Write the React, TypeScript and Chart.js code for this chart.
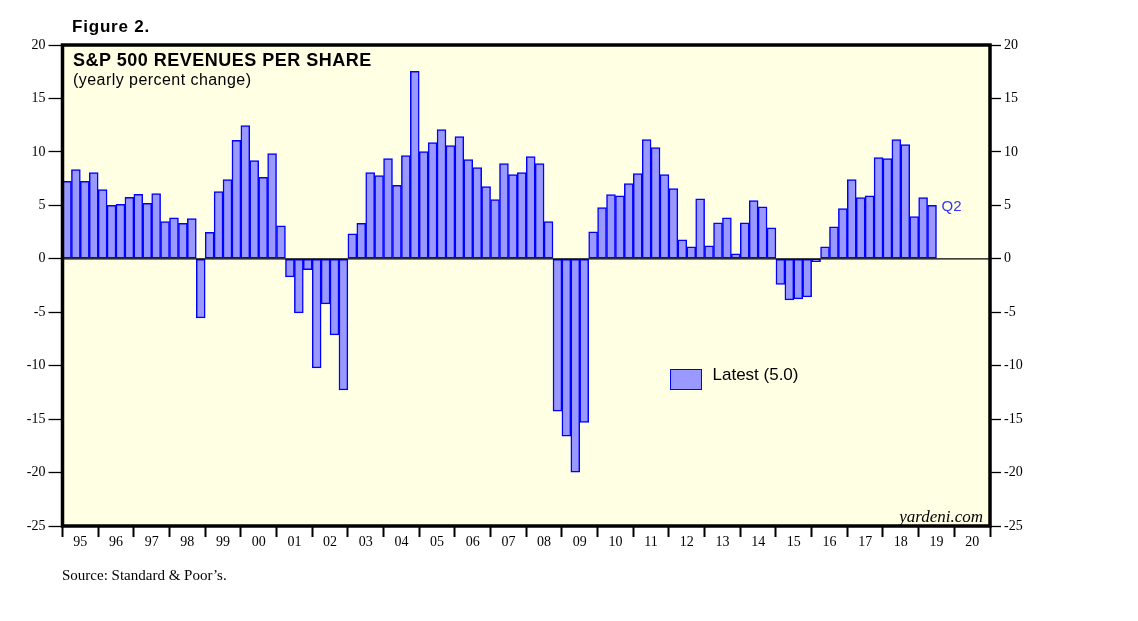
import React, { useEffect, useRef } from "react";
import { Chart, registerables } from "chart.js";

Chart.register(...registerables);

const years = [
  1995, 1996, 1997, 1998, 1999, 2000, 2001, 2002, 2003, 2004, 2005, 2006, 2007,
  2008, 2009, 2010, 2011, 2012, 2013, 2014, 2015, 2016, 2017, 2018, 2019, 2020,
];
const quarters = ["Q1", "Q2", "Q3", "Q4"];
const yearLabels = [
  "95", "96", "97", "98", "99", "00", "01", "02", "03", "04", "05", "06", "07",
  "08", "09", "10", "11", "12", "13", "14", "15", "16", "17", "18", "19", "20",
];
// yearly percent change of S&P 500 revenues per share, quarterly from 1995 Q1
const revenueGrowth = [
  7.25, 8.34, 7.25, 8.06, // 1995
  6.47, 5.0, 5.09, 5.75, // 1996
  6.03, 5.18, 6.09, 3.47, // 1997
  3.84, 3.31, 3.75, -5.53, // 1998
  2.47, 6.28, 7.4, 11.09, // 1999
  12.47, 9.18, 7.62, 9.84, // 2000
  3.09, -1.69, -5.06, -1.03, // 2001
  -10.2, -4.22, -7.12, -12.28, // 2002
  2.34, 3.31, 8.06, 7.78, // 2003
  9.37, 6.87, 9.65, 17.53, // 2004
  10.03, 10.87, 12.09, 10.59, // 2005
  11.43, 9.28, 8.53, 6.75, // 2006
  5.53, 8.9, 7.87, 8.06, // 2007
  9.56, 8.9, 3.47, -14.25, // 2008
  -16.6, -19.97, -15.3, 2.53, // 2009
  4.78, 6.0, 5.9, 7.03, // 2010
  7.97, 11.15, 10.4, 7.87, // 2011
  6.56, 1.78, 1.12, 5.62, // 2012
  1.22, 3.37, 3.84, 0.47, // 2013
  3.37, 5.44, 4.87, 2.9, // 2014
  -2.41, -3.84, -3.75, -3.56, // 2015
  -0.28, 1.12, 3.0, 4.69, // 2016
  7.4, 5.72, 5.9, 9.47, // 2017
  9.37, 11.15, 10.68, 3.94, // 2018
  5.72, 5.0, // 2019
];
const yTicks = [-25, -20, -15, -10, -5, 0, 5, 10, 15, 20];

const quarterLabels: string[] = [];
years.forEach((y) => quarters.forEach((q) => quarterLabels.push(`${y} ${q}`)));
const seriesData: (number | null)[] = quarterLabels.map((_, i) =>
  i < revenueGrowth.length ? revenueGrowth[i] : null
);
const latest = revenueGrowth[revenueGrowth.length - 1];
const legendLabel = `Latest (${latest.toFixed(1)})`;

const BAR_FILL = "#9999ff";
const BAR_EDGE = "#0000ff";
const SERIF = "'Liberation Serif', 'Times New Roman', serif";
const SANS = "'Liberation Sans', Arial, sans-serif";

const framePlugin = {
  id: "frame",
  beforeDraw(chart: any) {
    const { ctx, chartArea: a } = chart;
    ctx.save();
    ctx.fillStyle = "#ffffe3";
    ctx.fillRect(a.left, a.top, a.right - a.left, a.bottom - a.top);
    ctx.restore();
  },
  afterDatasetsDraw(chart: any) {
    const { ctx, chartArea: a } = chart;
    const y0 = chart.scales.y.getPixelForValue(0);
    ctx.save();
    ctx.strokeStyle = "#000";
    ctx.lineWidth = 1.3;
    ctx.beginPath();
    ctx.moveTo(a.left, y0);
    ctx.lineTo(a.right, y0);
    ctx.stroke();
    ctx.lineWidth = 3.5;
    ctx.strokeRect(a.left, a.top, a.right - a.left, a.bottom - a.top);
    ctx.restore();
  },
};

export default function App() {
  const ref = useRef<HTMLCanvasElement | null>(null);

  useEffect(() => {
    if (!ref.current) return;
    const tickFont = { family: SERIF, size: 14 };
    const chart = new Chart(ref.current, {
      type: "bar",
      data: {
        labels: quarterLabels,
        datasets: [
          {
            label: legendLabel,
            data: seriesData,
            backgroundColor: BAR_FILL,
            borderColor: BAR_EDGE,
            borderWidth: 1.5,
            borderSkipped: false,
            categoryPercentage: 1,
            barPercentage: 1,
            xAxisID: "x",
            yAxisID: "y",
          } as any,
        ],
      },
      options: {
        responsive: false,
        animation: false,
        events: [],
        layout: { padding: { top: 45, left: 0, right: 0, bottom: 0 } },
        plugins: {
          legend: { display: false },
          tooltip: { enabled: false },
          title: { display: false },
        },
        scales: {
          x: {
            type: "category",
            display: false,
            offset: true,
          },
          xYear: {
            type: "category",
            labels: yearLabels,
            position: "bottom",
            offset: true,
            grid: {
              offset: true,
              drawOnChartArea: false,
              drawTicks: true,
              tickLength: 11,
              tickWidth: 2,
              tickColor: "#000",
            },
            border: { display: false },
            ticks: {
              font: tickFont,
              color: "#000",
              padding: -3,
              maxRotation: 0,
              autoSkip: false,
            },
            afterFit: (s: any) => {
              s.height = 95;
            },
          },
          y: {
            type: "linear",
            position: "left",
            min: -25,
            max: 20,
            afterBuildTicks: (s: any) => {
              s.ticks = yTicks.map((v) => ({ value: v }));
            },
            grid: {
              drawOnChartArea: false,
              drawTicks: true,
              tickLength: 14,
              tickWidth: 1.3,
              tickColor: "#000",
            },
            border: { display: false },
            ticks: { font: tickFont, color: "#000", padding: 3 },
            afterFit: (s: any) => {
              s.width = 62.5;
            },
          },
          y2: {
            type: "linear",
            position: "right",
            min: -25,
            max: 20,
            afterBuildTicks: (s: any) => {
              s.ticks = yTicks.map((v) => ({ value: v }));
            },
            grid: {
              drawOnChartArea: false,
              drawTicks: true,
              tickLength: 11,
              tickWidth: 1.3,
              tickColor: "#000",
            },
            border: { display: false },
            ticks: { font: tickFont, color: "#000", padding: 3 },
            afterFit: (s: any) => {
              s.width = 148;
            },
          },
        },
      } as any,
      plugins: [framePlugin],
    });
    return () => chart.destroy();
  }, []);

  const abs = (extra: React.CSSProperties): React.CSSProperties => ({
    position: "absolute",
    whiteSpace: "nowrap",
    margin: 0,
    ...extra,
  });

  return (
    <div style={{ position: "absolute", left: 0, top: 0, width: 1138, height: 621, background: "#fff" }}>
      <canvas ref={ref} width={1138} height={621} style={{ position: "absolute", left: 0, top: 0, width: 1138, height: 621 }} />
      <div style={abs({ left: 72, top: 17.9, font: `bold 17px/17px ${SANS}`, letterSpacing: "0.8px", color: "#000" })}>Figure 2.</div>
      <div style={abs({ left: 73, top: 50.5, font: `bold 18px/18px ${SANS}`, letterSpacing: "0.5px", color: "#000" })}>S&amp;P 500 REVENUES PER SHARE</div>
      <div style={abs({ left: 73, top: 71.5, font: `16px/16px ${SANS}`, letterSpacing: "0.45px", color: "#000" })}>(yearly percent change)</div>
      <div style={abs({ left: 941.5, top: 198.3, font: `15px/15px ${SANS}`, color: "#3333ff" })}>Q2</div>
      <div
        style={abs({
          left: 670,
          top: 369.3,
          width: 31.7,
          height: 21,
          boxSizing: "border-box",
          background: BAR_FILL,
          border: `1.5px solid ${BAR_EDGE}`,
        })}
      />
      <div style={abs({ left: 712.5, top: 366.3, font: `17px/17px ${SANS}`, color: "#000" })}>{legendLabel}</div>
      <div style={abs({ right: 1138 - 983, top: 508.4, font: `italic 17px/17px ${SERIF}`, color: "#000" })}>yardeni.com</div>
      <div style={abs({ left: 62, top: 568, font: `15px/15px ${SERIF}`, color: "#000" })}>Source: Standard &amp; Poor’s.</div>
    </div>
  );
}
